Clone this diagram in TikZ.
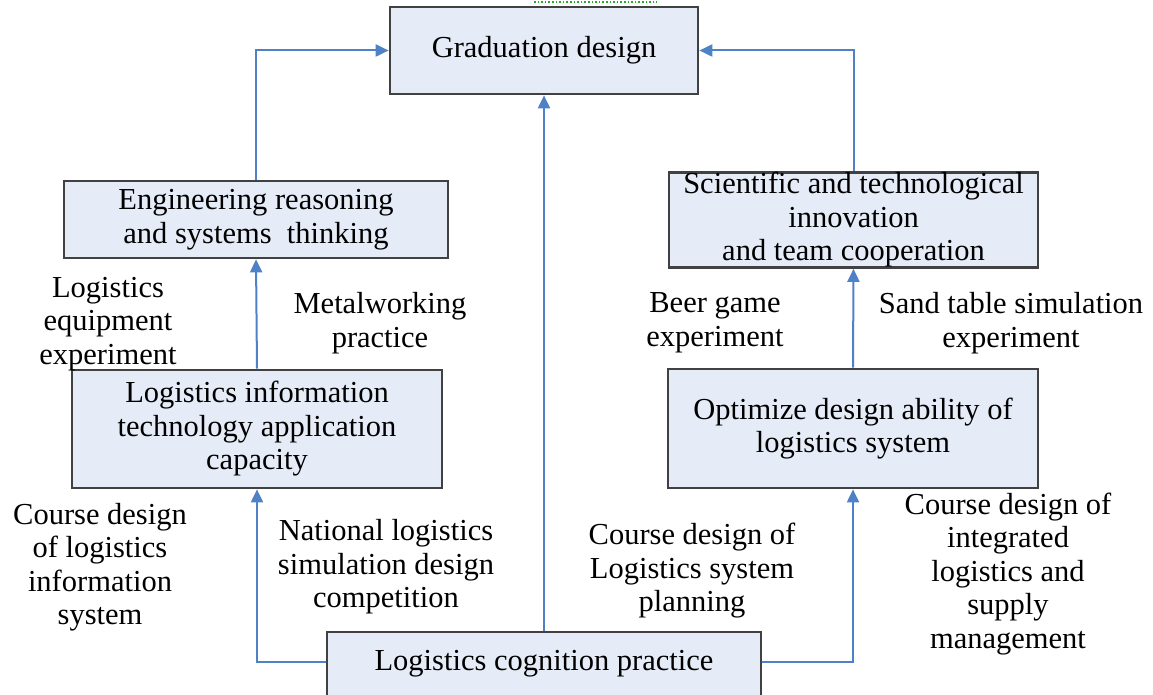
\documentclass[tikz,border=0pt]{standalone}
\usepackage{fontspec}
\setmainfont{Liberation Serif}
\usetikzlibrary{arrows.meta}
\definecolor{boxfill}{RGB}{230,236,247}
\definecolor{boxline}{RGB}{65,65,65}
\definecolor{linkblue}{RGB}{79,129,199}
\definecolor{dotgreen}{RGB}{40,170,40}
\tikzset{
  box/.style={draw=boxline, line width=2.7pt, fill=boxfill, align=center,
    inner sep=0pt, font=\fontsize{30.5}{33.5}\selectfont},
  lbl/.style={align=center, inner sep=0pt, font=\fontsize{30.5}{33.5}\selectfont},
  link/.style={draw=linkblue, line width=2pt,
    -{Triangle[length=13pt,width=12pt]}}
}
\begin{document}
\begin{tikzpicture}[x=1pt,y=-1pt]
      \useasboundingbox (0,0) rectangle (1153,695);
      \clip (0,0) rectangle (1153,695);
      \draw[dotgreen, line width=1.6pt, dotted] (534,2) -- (657,2);
      \draw
        (544,50.5) node[box, minimum width=308pt, minimum height=87pt] (grad){Graduation design}
        (256,219.5) node[box, minimum width=384pt, minimum height=77pt] (eng){Engineering reasoning\\and systems\ \ thinking}
        (853.5,220) node[box, minimum width=369pt, minimum height=94pt] (sci){Scientific and technological\\innovation\\and team cooperation}
        (257,429) node[box, minimum width=370pt, minimum height=118pt] (info){Logistics information\\technology application\\capacity}
        (853,428.5) node[box, minimum width=370pt, minimum height=119pt] (opt){Optimize design ability of\\logistics system}
        (544,672) node[box, minimum width=434pt, text height=38pt, text depth=42pt] (cog){Logistics cognition practice};
      \draw
        (108,324) node[lbl] (equip){Logistics\\equipment\\experiment}
        (380,323) node[lbl] (metal){Metalworking\\practice}
        (715,323) node[lbl] (beer){Beer game\\experiment}
        (1011,323) node[lbl] (sand){Sand table simulation\\experiment}
        (100,567) node[lbl] (cdinfo){Course design\\of logistics\\information\\system}
        (386,567) node[lbl] (natl){National logistics\\simulation design\\competition}
        (692,571) node[lbl] (cdplan){Course design of\\Logistics system\\planning}
        (1008,574) node[lbl] (cdsupply){Course design of\\integrated\\logistics and\\supply\\management};
      \begin{scope}[link]
        \draw (eng.north) |- (grad.west);
        \draw (sci.north) |- (grad.east);
        \draw (cog.north) -- (grad.south);
        \draw (info.north) -- (eng.south);
        \draw (opt.north) -- (sci.south);
        \draw ([yshift=10pt]cog.west) -| (info.south);
        \draw ([yshift=10pt]cog.east) -| (opt.south);
      \end{scope}
    \end{tikzpicture}
\end{document}
